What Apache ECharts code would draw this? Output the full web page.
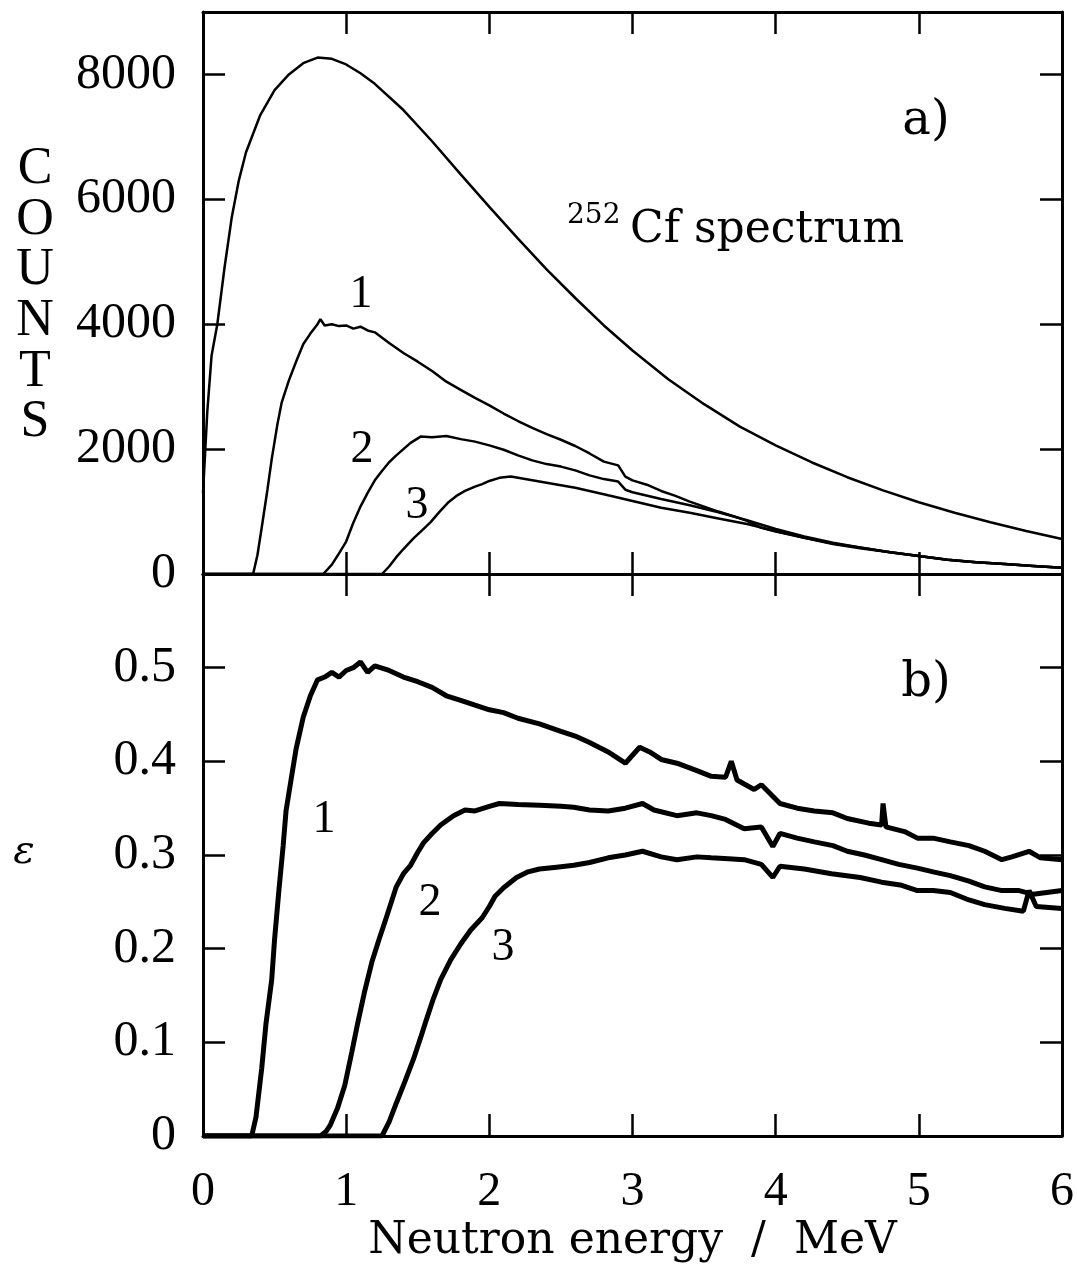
<!DOCTYPE html>
<html>
<head>
<meta charset="utf-8">
<script src="https://cdn.jsdelivr.net/npm/echarts@6/dist/echarts.min.js"></script>
<style>
  html, body { margin: 0; padding: 0; background: #fff; }
  #chart { width: 1077px; height: 1275px; }
</style>
</head>
<body>
<div id="chart"></div>
<script>
// panel a) counts vs neutron energy (MeV)
const energyCf = [0, 0.03, 0.06, 0.1, 0.15, 0.2, 0.25, 0.3, 0.4, 0.5, 0.6, 0.7, 0.8, 0.9, 1.0, 1.1, 1.2, 1.4, 1.6, 1.8, 2.0, 2.2, 2.4, 2.6, 2.8, 3.0, 3.25, 3.5, 3.75, 4.0, 4.25, 4.5, 4.75, 5.0, 5.25, 5.5, 5.75, 6.0]
const countsCf = [1300, 2600, 3500, 4000, 4900, 5700, 6300, 6750, 7350, 7750, 8000, 8180, 8270, 8250, 8160, 8020, 7850, 7430, 6930, 6400, 5880, 5370, 4880, 4420, 3980, 3580, 3120, 2720, 2360, 2060, 1790, 1550, 1340, 1150, 980, 830, 690, 560]

const energyC1 = [0, 0.35, 0.38, 0.41, 0.45, 0.48, 0.52, 0.55, 0.6, 0.65, 0.7, 0.75, 0.8, 0.82, 0.85, 0.9, 0.95, 1.0, 1.05, 1.1, 1.15, 1.2, 1.3, 1.4, 1.5, 1.6, 1.7, 1.8, 1.9, 2.0, 2.1, 2.2, 2.3, 2.4, 2.5, 2.6, 2.7, 2.8, 2.9, 2.95, 3.0, 3.1, 3.2, 3.3, 3.4, 3.5, 3.6, 3.7, 3.8, 3.9, 4.0, 4.2, 4.4, 4.6, 4.8, 5.0, 5.2, 5.4, 5.6, 5.8, 6.0]
const counts1 = [0, 0, 300, 740, 1350, 1840, 2400, 2750, 3100, 3400, 3680, 3850, 4000, 4080, 3980, 4000, 3970, 3980, 3930, 3960, 3900, 3870, 3700, 3540, 3400, 3250, 3080, 2950, 2820, 2700, 2570, 2450, 2340, 2240, 2150, 2050, 1930, 1800, 1740, 1560, 1500, 1430, 1330, 1250, 1160, 1080, 1000, 930, 850, 740, 680, 580, 480, 410, 350, 290, 230, 190, 160, 130, 100]

const energyC2 = [0, 0.84, 0.9, 0.95, 1.0, 1.05, 1.1, 1.15, 1.2, 1.25, 1.3, 1.35, 1.4, 1.45, 1.52, 1.6, 1.7, 1.8, 1.9, 2.0, 2.1, 2.2, 2.3, 2.4, 2.5, 2.6, 2.7, 2.8, 2.9, 2.95, 3.0, 3.2, 3.4, 3.6, 3.8, 4.0, 4.2, 4.4, 4.6, 4.8, 5.0, 5.2, 5.4, 5.6, 5.8, 6.0]
const counts2 = [0, 0, 150, 330, 520, 820, 1080, 1300, 1500, 1650, 1790, 1900, 2000, 2100, 2200, 2190, 2210, 2160, 2120, 2060, 1990, 1900, 1820, 1760, 1720, 1660, 1580, 1520, 1480, 1350, 1310, 1200, 1100, 990, 860, 720, 600, 500, 420, 350, 290, 230, 190, 160, 130, 100]

const energyC3 = [0, 1.25, 1.3, 1.35, 1.4, 1.47, 1.53, 1.59, 1.65, 1.71, 1.77, 1.83, 1.9, 1.95, 2.0, 2.07, 2.15, 2.2, 2.3, 2.4, 2.5, 2.6, 2.7, 2.83, 3.0, 3.2, 3.4, 3.6, 3.8, 4.0, 4.2, 4.4, 4.6, 4.8, 5.0, 5.2, 5.4, 5.6, 5.8, 6.0]
const counts3 = [0, 0, 120, 270, 400, 570, 700, 830, 990, 1140, 1250, 1330, 1400, 1440, 1490, 1540, 1560, 1540, 1500, 1460, 1420, 1380, 1330, 1260, 1170, 1060, 980, 890, 800, 690, 580, 490, 420, 350, 290, 230, 190, 160, 130, 100]

// panel b) efficiency vs neutron energy (MeV)
const energyE1 = [0, 0.34, 0.37, 0.41, 0.44, 0.48, 0.5, 0.53, 0.56, 0.58, 0.62, 0.65, 0.7, 0.75, 0.8, 0.85, 0.9, 0.95, 1.0, 1.05, 1.1, 1.15, 1.2, 1.3, 1.4, 1.5, 1.6, 1.7, 1.8, 1.9, 2.0, 2.1, 2.2, 2.35, 2.5, 2.6, 2.7, 2.83, 2.95, 3.05, 3.12, 3.2, 3.31, 3.45, 3.55, 3.65, 3.69, 3.73, 3.85, 3.9, 4.03, 4.15, 4.27, 4.4, 4.5, 4.65, 4.74, 4.75, 4.77, 4.9, 4.99, 5.1, 5.22, 5.35, 5.46, 5.58, 5.65, 5.77, 5.85, 6.0]
const eff1 = [0, 0, 0.02, 0.072, 0.12, 0.167, 0.21, 0.262, 0.31, 0.347, 0.385, 0.413, 0.447, 0.47, 0.487, 0.49, 0.495, 0.49, 0.497, 0.5, 0.506, 0.495, 0.502, 0.497, 0.49, 0.485, 0.479, 0.47, 0.465, 0.46, 0.455, 0.452, 0.446, 0.44, 0.432, 0.427, 0.42, 0.41, 0.398, 0.415, 0.41, 0.402, 0.398, 0.39, 0.384, 0.383, 0.4, 0.38, 0.37, 0.375, 0.355, 0.35, 0.347, 0.345, 0.339, 0.334, 0.332, 0.355, 0.33, 0.325, 0.318, 0.318, 0.314, 0.31, 0.304, 0.295, 0.298, 0.304, 0.297, 0.295]

const energyE2 = [0, 0.82, 0.86, 0.89, 0.94, 0.99, 1.04, 1.08, 1.13, 1.18, 1.23, 1.28, 1.35, 1.4, 1.45, 1.5, 1.54, 1.6, 1.66, 1.75, 1.83, 1.9, 2.0, 2.07, 2.2, 2.35, 2.5, 2.59, 2.7, 2.83, 2.95, 3.07, 3.15, 3.31, 3.45, 3.55, 3.65, 3.78, 3.9, 3.98, 4.03, 4.15, 4.27, 4.4, 4.5, 4.62, 4.74, 4.86, 4.99, 5.1, 5.22, 5.35, 5.46, 5.58, 5.7, 5.8, 6.0]
const eff2 = [0, 0, 0.005, 0.012, 0.03, 0.054, 0.09, 0.12, 0.155, 0.186, 0.21, 0.233, 0.266, 0.28, 0.289, 0.303, 0.313, 0.323, 0.332, 0.342, 0.348, 0.347, 0.352, 0.355, 0.354, 0.353, 0.352, 0.351, 0.348, 0.347, 0.35, 0.355, 0.348, 0.342, 0.345, 0.342, 0.338, 0.328, 0.33, 0.309, 0.323, 0.318, 0.314, 0.31, 0.304, 0.3, 0.295, 0.29, 0.286, 0.282, 0.278, 0.272, 0.266, 0.262, 0.262, 0.258, 0.262]

const energyE3 = [0, 1.25, 1.3, 1.35, 1.41, 1.47, 1.52, 1.56, 1.61, 1.66, 1.73, 1.8, 1.87, 1.95, 2.0, 2.04, 2.1, 2.19, 2.27, 2.35, 2.47, 2.59, 2.7, 2.83, 2.95, 3.07, 3.2, 3.31, 3.45, 3.55, 3.67, 3.78, 3.9, 3.98, 4.03, 4.2, 4.39, 4.59, 4.74, 4.87, 4.99, 5.1, 5.22, 5.35, 5.46, 5.6, 5.73, 5.77, 5.82, 6.0]
const eff3 = [0, 0, 0.015, 0.035, 0.058, 0.082, 0.105, 0.124, 0.147, 0.167, 0.188, 0.205, 0.22, 0.233, 0.245, 0.256, 0.265, 0.276, 0.282, 0.285, 0.287, 0.289, 0.292, 0.297, 0.3, 0.304, 0.298, 0.295, 0.298, 0.297, 0.296, 0.295, 0.29, 0.276, 0.288, 0.285, 0.28, 0.276, 0.271, 0.268, 0.262, 0.262, 0.26, 0.252, 0.247, 0.243, 0.24, 0.262, 0.245, 0.243]

const xTicks = ['0', '1', '2', '3', '4', '5', '6']

function pairs(xs, ys) {
	return xs.map((x, i) => [x, ys[i]])
}

const chart = echarts.init(document.getElementById('chart'), null, { renderer: 'canvas' })

const black = '#000'
const tickFont = 'Liberation Serif'
const frame = { show: true, onZero: false, lineStyle: { color: black, width: 3 } }
const inTick = { show: true, inside: true, length: 22, lineStyle: { color: black, width: 2.5 } }

function xAx(grid, pos, labels) {
	return {
		type: 'value', gridIndex: grid, position: pos,
		min: 0, max: 6, interval: 1,
		axisLine: frame, axisTick: inTick, splitLine: { show: false },
		axisLabel: labels ? {
			show: true, margin: 32, color: black, fontFamily: tickFont, fontSize: 48,
			formatter: (v) => xTicks[Math.round(v)]
		} : { show: false }
	}
}

function yAx(grid, pos, max, step, fmt) {
	return {
		type: 'value', gridIndex: grid, position: pos,
		min: 0, max: max, interval: step,
		axisLine: frame, axisTick: inTick, splitLine: { show: false },
		axisLabel: fmt ? {
			show: true, margin: 27, color: black, fontFamily: tickFont, fontSize: 50,
			showMaxLabel: false, formatter: fmt
		} : { show: false }
	}
}

function line(name, data, xi, yi, w) {
	return {
		name: name, type: 'line', data: data, xAxisIndex: xi, yAxisIndex: yi,
		showSymbol: false, symbol: 'none', smooth: false, silent: true,
		lineStyle: { color: black, width: w }
	}
}

function txt(s, x, y, font, align) {
	return {
		type: 'text', x: x, y: y, silent: true,
		style: { text: s, font: font, fill: black, align: align || 'center', verticalAlign: 'middle' }
	}
}

const option = {
	backgroundColor: '#fff',
	animation: false,
	grid: [
		{ left: 203, top: 12, width: 859, height: 562 },
		{ left: 203, top: 574, width: 859, height: 562 }
	],
	xAxis: [
		xAx(0, 'bottom', false),
		xAx(0, 'top', false),
		Object.assign(xAx(1, 'bottom', true), {
			name: 'Neutron energy  /  MeV', nameLocation: 'middle', nameGap: 84,
			nameTextStyle: { color: black, fontFamily: 'DejaVu Serif', fontSize: 44 }
		}),
		xAx(1, 'top', false)
	],
	yAxis: [
		yAx(0, 'left', 9000, 2000, (v) => String(v)),
		yAx(0, 'right', 9000, 2000, null),
		yAx(1, 'left', 0.6, 0.1, (v) => (v === 0 ? '0' : v.toFixed(1))),
		yAx(1, 'right', 0.6, 0.1, null)
	],
	series: [
		line('252Cf spectrum', pairs(energyCf, countsCf), 0, 0, 2.5),
		line('counts 1', pairs(energyC1, counts1), 0, 0, 2.5),
		line('counts 2', pairs(energyC2, counts2), 0, 0, 2.5),
		line('counts 3', pairs(energyC3, counts3), 0, 0, 2.5),
		line('efficiency 1', pairs(energyE1, eff1), 2, 2, 5),
		line('efficiency 2', pairs(energyE2, eff2), 2, 2, 5),
		line('efficiency 3', pairs(energyE3, eff3), 2, 2, 5)
	],
	graphic: [
		{
			type: 'text', x: 35, y: 296, silent: true,
			style: {
				text: 'C\nO\nU\nN\nT\nS', font: '52px "Liberation Serif"', fill: black,
				align: 'center', verticalAlign: 'middle', lineHeight: 50.6
			}
		},
		txt('\u03b5', 24, 853, 'italic 40px "DejaVu Serif"'),
		txt('a)', 926, 122, '48px "DejaVu Serif"'),
		txt('b)', 926, 684, '48px "DejaVu Serif"'),
		txt('252', 567, 216, '28px "DejaVu Serif"', 'left'),
		txt('Cf spectrum', 630, 231, '44px "DejaVu Serif"', 'left'),
		txt('1', 361, 295, '46px "Liberation Serif"'),
		txt('2', 362, 450, '46px "Liberation Serif"'),
		txt('3', 417, 506, '46px "Liberation Serif"'),
		txt('1', 324, 820, '46px "Liberation Serif"'),
		txt('2', 430, 903, '46px "Liberation Serif"'),
		txt('3', 503, 948, '46px "Liberation Serif"')
	]
}

chart.setOption(option)
</script>
</body>
</html>
